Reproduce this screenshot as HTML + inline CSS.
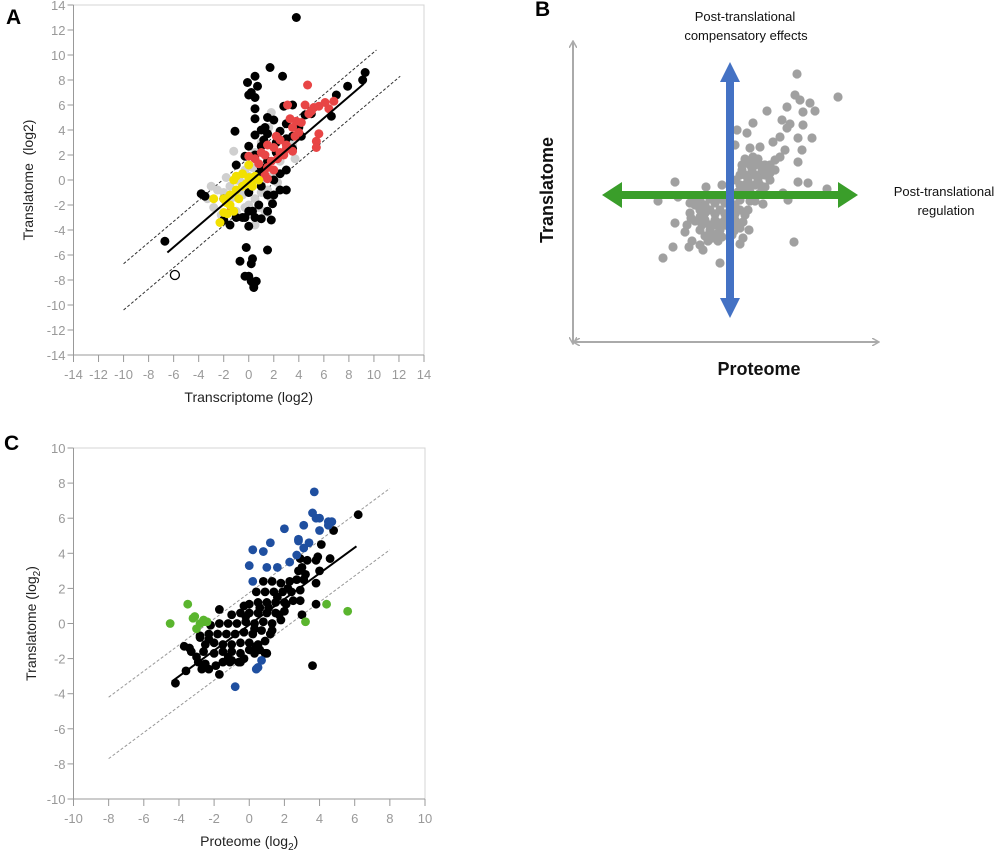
<!DOCTYPE html>
<html><head><meta charset="utf-8"><style>
html,body{margin:0;padding:0;background:#fff;}
svg{display:block;font-family:"Liberation Sans",sans-serif;}
</style></head><body>
<svg id="fig" width="1000" height="854" viewBox="0 0 1000 854">
<text x="6" y="24" font-size="21" font-weight="bold">A</text>
<text x="535" y="16" font-size="21" font-weight="bold">B</text>
<text x="4" y="450" font-size="21" font-weight="bold">C</text>
<g id="pa"></g>
<g id="pb"></g>
<g id="pc"></g>
</svg>
<script>
const NS="http://www.w3.org/2000/svg";
// ---------- Panel A data ----------
const aTicks=[-14,-12,-10,-8,-6,-4,-2,0,2,4,6,8,10,12,14];
const aGray=[[-1,0],[-0.5,0.5],[0,0.3],[0.5,0],[1,-0.3],[-1.5,-0.5],[-1,-1],[-0.5,-1.2],[0,-1],[0.5,-1.5],[1,-1],[-2,-1],[-2.5,-0.8],[-3,-0.5],[-3.3,-1.5],[-2.8,-2.2],[-1.5,-2],[-1,-2.5],[-0.3,-2.2],[0.8,-2.2],[1.3,-2.5],[1.5,-2.6],[0.5,-3.6],[-1.2,2.3],[1.8,5.4],[1.6,4.2],[1,3],[0.5,2.2],[1.5,1],[2,0.5],[2.3,-0.2],[0.3,1],[-0.3,0.8],[1.2,0.2],[-1.8,0.2],[1.5,-0.8],[0,-2],[3.7,1.7],[3.5,2.8],[2.5,1.5],[-0.6,-0.2],[0.2,-0.6],[-1.3,-1.4],[-0.8,0.2],[0.7,0.6],[1.8,-1.5],[-2.2,-2.8]];
const aBlack=[[3.8,13],[1.7,9],[2.7,8.3],[0.5,8.3],[-0.1,7.8],[0.7,7.5],[0,6.8],[0.5,6.6],[0.2,7],[0.5,5.7],[0.5,4.9],[1.5,5],[2,4.8],[1,4],[-1.1,3.9],[0.5,3.6],[1.5,3.7],[2.5,3.9],[3.5,3.5],[0,2.7],[1,2.7],[-1,1.2],[0.5,2],[-0.3,1.9],[3,0.8],[2.5,0.5],[2,0],[2,-1.2],[2.5,-0.8],[3,-0.8],[1.5,-1.2],[1.9,-1.9],[1.8,-3.2],[1,-3.1],[0.3,-2.5],[0.5,-3],[-0.3,-3],[0,-3.7],[-1.5,-3.6],[-3.8,-1.1],[-3.5,-1.3],[-0.2,-5.4],[-0.7,-6.5],[0.3,-6.3],[0.2,-6.7],[1.5,-5.6],[-0.3,-7.7],[0,-7.7],[0.2,-8.1],[0.6,-8.1],[0.4,-8.6],[0.4,-8.4],[-6.7,-4.9],[9.3,8.6],[9.1,8],[7.9,7.5],[7,6.8],[6.6,5.1],[5,5.3],[4.5,5.2],[3.5,6],[3,4.5],[4,4.2],[1,1],[1.5,1.5],[0.8,-2],[0,-2.5],[-0.5,-3],[-1,-3],[-2,-3.2],[-2,-1.5],[0.8,0.5],[3.5,2.5],[1.2,3.2],[2.2,3],[3,3.3],[4.2,3.5],[1,-0.5],[1.5,-2.5],[0,-1],[2.8,5.9],[1.3,4.2],[2.2,2.2]];
const aRed=[[4.7,7.6],[3.1,6],[4.5,6],[5.2,5.8],[5.6,5.9],[6.1,6.2],[6.8,6.3],[6.4,5.7],[5,5.5],[4.8,5.3],[3.3,4.9],[3.8,4.7],[4.2,4.6],[3.5,4.2],[4,3.8],[3.7,3.5],[5.6,3.7],[5.4,3.1],[5.4,2.6],[2.2,3.5],[2.5,3.2],[1.5,2.8],[2,2.6],[3,2.5],[3.5,2.3],[1,2.2],[1.3,2],[0,1.9],[0.5,1.7],[1.8,1.5],[2.3,1.7],[2.8,2],[0.8,1.3],[1.5,1],[2,0.8],[1.3,0.4],[1.5,0.1],[2.5,2.2],[3,2.8],[-1.4,-2.4]];
const aYellow=[[0,1.2],[-1.2,0],[-1,0.3],[-0.5,0.5],[0,0.2],[0.5,0.3],[-0.2,-0.3],[0.3,-0.5],[-0.5,-0.5],[-1,-0.8],[-1.5,-1.2],[-2,-1.5],[-1.8,-1.8],[-2.8,-1.5],[-1.5,-2],[-2,-2.6],[-1.7,-2.7],[-2.3,-3.4],[-1.2,-2.5],[0.8,0],[0.3,0.1],[-0.8,-1.5]];
const aOpen=[[-5.9,-7.6]];
const aFit=[[-6.5,-5.8],[9.2,7.7]];
const aUpper=[[-10,-6.7],[10.2,10.4]];
const aLower=[[-10,-10.4],[12.1,8.3]];
// ---------- Panel C data ----------
const cTicks=[-10,-8,-6,-4,-2,0,2,4,6,8,10];
const cBlack=[[6.2,6.2],[4.8,5.3],[4.1,4.5],[4.6,3.7],[3.9,3.8],[3.8,3.6],[4,3],[3.3,3.6],[2.9,3.7],[3.8,2.3],[3.8,1.1],[3,0.5],[3.6,-2.4],[-4.2,-3.4],[-3.6,-2.7],[-1.7,-2.9],[-2.7,-2.6],[-2.5,-2.3],[-1.7,0.8],
[-1.5,-2.2],[-1,-2.1],[-0.6,-2.2],[-1.2,-1.9],[-2,-1.7],[-1.5,-1.6],[-1,-1.6],[-0.5,-1.7],[0,-1.5],[0.3,-1.7],[0.6,-1.5],[1,-1.7],
[-2.5,-1.2],[-2,-1.1],[-1.5,-1.2],[-1,-1.2],[-0.5,-1.1],[0,-1.1],[0.5,-1.2],[0.9,-1],
[-2.8,-0.7],[-2.3,-0.6],[-1.8,-0.6],[-1.3,-0.6],[-0.8,-0.6],[-0.3,-0.5],[0.2,-0.6],[0.7,-0.4],[1.2,-0.6],
[-2.2,-0.1],[-1.7,0],[-1.2,0],[-0.7,0],[-0.2,0.1],[0.3,0],[0.8,0.1],[1.3,0],[1.8,0.2],
[-1,0.5],[-0.5,0.6],[0,0.6],[0.5,0.6],[1,0.6],[1.5,0.6],[2,0.7],[-0.3,1],
[0,1.1],[0.5,1.2],[1,1.2],[1.5,1.2],[2,1.2],[2.5,1.3],[2.9,1.3],
[0.4,1.8],[0.9,1.8],[1.4,1.8],[1.9,1.8],[2.4,1.8],[2.9,1.9],
[0.8,2.4],[1.3,2.4],[1.8,2.3],[2.3,2.4],[2.7,2.5],[3.1,2.5],[3,3.2],[2.8,3],[3.2,2.8],
[-3.7,-1.3],[-3.4,-1.4],[-3.3,-1.6],[-3,-1.9],[-2.6,-1.6],[-2.8,-0.8],[-2.3,-0.9],[-2.3,-2.6],[-1.1,-2.2],[-0.3,-2],[0.4,-1.3],[1.3,-0.4],[2.1,1.1],[1.7,0.5],[-0.5,-2.2],[0.9,-1.7],[-2.9,-2.2],[-1.9,-2.4],[0.3,-0.3],[-0.2,0.4],[1.1,0.9],[2.2,2],[1.6,1.5],[0.6,0.9]];
const cBlue=[[3.7,7.5],[3.6,6.3],[3.8,6],[4,6],[4.5,5.8],[4.7,5.8],[4.5,5.6],[4,5.3],[2,5.4],[3.1,5.6],[1.2,4.6],[2.8,4.8],[2.8,4.7],[3.4,4.6],[3.1,4.3],[0.2,4.2],[0.8,4.1],[2.7,3.9],[0,3.3],[1,3.2],[1.6,3.2],[2.3,3.5],[0.2,2.4],[0.7,-2.1],[0.5,-2.5],[0.4,-2.6],[-0.8,-3.6]];
const cGreen=[[-3.5,1.1],[-4.5,0],[-3.2,0.3],[-3.1,0.4],[-2.8,0],[-2.6,0.1],[-2.4,0.1],[-2.6,0.2],[-3,-0.3],[4.4,1.1],[5.6,0.7],[3.2,0.1]];
const cFit=[[-4.4,-3.3],[6.1,4.4]];
const cUpper=[[-8,-4.2],[8,7.7]];
const cLower=[[-8,-7.7],[8,4.2]];
// ---------- Panel B data ----------
const bPoints=[[6.7,12.1],[10.8,9.8],[6.5,10],[7,9.5],[8,9.2],[8.5,8.4],[5.7,8.8],[3.7,8.4],[7.3,8.3],[2.3,7.2],[1.7,6.2],[5.2,7.5],[6,7.1],[5.7,6.7],[7.3,7],[5,5.8],[6.8,5.7],[8.2,5.7],[4.3,5.3],[3,4.8],[2,4.7],[0.7,6.5],[0.5,5],[7.2,4.5],[6.8,3.3],[6.8,1.3],[7.8,1.2],[9.7,0.6],[5.8,-0.5],[5.3,0.2],[-5.5,1.3],[-2.4,0.8],[-0.8,1],[-7.2,-0.6],[-5.2,-0.2],[-5.5,-2.8],[-4.5,-3.7],[-5.7,-5.2],[-6.7,-6.3],[-3.8,-4.6],[-4.1,-5.2],[-2.7,-5.5],[-3,-5],[-1,-6.8],[6.4,-4.7],[1.9,-3.5],[1,-4.9],[1.3,-4.3],
[1,1],[1.5,1],[2,1],[2.5,1],[3,1],[3.5,0.8],[1,2],[1.5,2],[2,2],[2.5,2],[3,2],[3.5,2],[4,2.2],[1.2,3],[2,3],[2.5,3],[3,3],[3.5,3],[4,3],[4.5,3.5],[5,3.8],[5.5,4.5],[1.5,3.6],[2.3,3.8],[0.8,0.3],[2,0.3],[3,0.2],[4,1.5],[4.5,2.5],[1,-0.2],[2.5,-0.6],[3.3,-0.9],
[-4,-0.8],[-3,-0.5],[-2,-0.4],[-1,-0.4],[0,-0.4],[1,-0.5],[2,-0.6],[-4,-1.8],[-3,-1.5],[-2,-1.5],[-1,-1.5],[0,-1.5],[1,-1.5],[1.8,-1.5],[-3.5,-2.6],[-2.5,-2.5],[-1.5,-2.5],[-0.5,-2.5],[0.5,-2.5],[1.3,-2.7],[-3,-3.5],[-2,-3.5],[-1,-3.5],[0,-3.3],[1,-3.3],[-1.8,-4.3],[-0.8,-4.2],[0.2,-4],[-4.3,-3],[-2.5,-4.1],[-3.5,-1],[-2.5,-1.8],[-1.5,-0.8],[-0.5,-0.8],[0.5,-1],[-2,-3],[-1,-2.8],[0,-2.2],[-3,-2.2],
[0.6,1.5],[1.2,2.5],[1.8,1.5],[2.2,2.5],[2.8,1.5],[3.2,2.5],[1.8,3.2],[2.8,3.6],[3.8,2.6],[1.3,0.5],[2.3,-0.2],[-3.5,-0.4],[-2.5,-1],[-1.5,-1.9],[-0.5,-1.9],[0.5,-1.9],[-2.8,-3],[-1.5,-3],[-0.5,-3],[0.6,-3],[-2.2,-4.6],[-1.2,-4.6],[-3.9,-2.3],[-1.3,-3.9],[0.4,-3.6],[1.5,-2],[-3.2,-1.1]];

function el(tag,attrs,parent){const e=document.createElementNS(NS,tag);for(const k in attrs)e.setAttribute(k,attrs[k]);parent.appendChild(e);return e;}
function lin(d0,d1,r0,r1){return v=>r0+(v-d0)*(r1-r0)/(d1-d0);}

function scatterPanel(g,o){
  const sx=lin(o.min,o.max,o.x0,o.x1), sy=lin(o.min,o.max,o.y0,o.y1);
  const frame=el('rect',{x:o.x0,y:o.y1,width:o.x1-o.x0,height:o.y0-o.y1,fill:'none',stroke:'#d4d4d4','stroke-width':1},g);
  
  
  const ax=el('line',{x1:o.x0,y1:o.y0,x2:o.x1,y2:o.y0,stroke:'#999'},g);
  
  
  const ay=el('line',{x1:o.x0,y1:o.y0,x2:o.x0,y2:o.y1,stroke:'#999'},g);
  
  
  o.ticks.forEach(t=>{
    const tx=el('line',{x1:sx(t),y1:o.y0,x2:sx(t),y2:o.y0+7,stroke:'#999'},g);
    
    
    const lx=el('text',{x:sx(t),y:o.y0+24,'text-anchor':'middle','font-size':13,fill:'#999'},g);lx.textContent=t;
    
    
    const ty=el('line',{x1:o.x0-6,y1:sy(t),x2:o.x0,y2:sy(t),stroke:'#999'},g);
    
    
    const ly=el('text',{x:o.x0-8,y:sy(t)+5,'text-anchor':'end','font-size':13,fill:'#999'},g);ly.textContent=t;
    
    
  });
  o.lines.forEach(L=>{
    const ln=el('line',{x1:sx(L.d[0][0]),y1:sy(L.d[0][1]),x2:sx(L.d[1][0]),y2:sy(L.d[1][1]),stroke:L.c,'stroke-width':L.w,'stroke-dasharray':L.dash||'none'},g);
    
    
  });
  o.series.forEach(S=>{
    S.d.forEach(p=>{
      const c=el('circle',{cx:sx(p[0]),cy:sy(p[1]),r:o.r,fill:S.fill,stroke:S.stroke||'none','stroke-width':1.3},g);
      
      
    });
  });
  o.fgLines.forEach(L=>{
    const ln=el('line',{x1:sx(L.d[0][0]),y1:sy(L.d[0][1]),x2:sx(L.d[1][0]),y2:sy(L.d[1][1]),stroke:L.c,'stroke-width':L.w},g);
    
    
  });
  const xt=el('text',{x:(o.x0+o.x1)/2,y:o.y0+47,'text-anchor':'middle','font-size':14,fill:'#222'},g);
  xt.innerHTML=o.xTitle;
  
  
  const yt=el('text',{x:0,y:0,'text-anchor':'middle','font-size':14,fill:'#222',transform:`translate(${o.yTitleX},${(o.y0+o.y1)/2}) rotate(-90)`},g);
  yt.innerHTML=o.yTitle;
  
  
}

scatterPanel(document.getElementById('pa'),{min:-14,max:14,x0:73.5,x1:424,y0:355,y1:5,ticks:aTicks,r:4.5,
  lines:[{d:aUpper,c:'#333',w:1,dash:'3,2',name:'upper-threshold-line'},{d:aLower,c:'#333',w:1,dash:'3,2',name:'lower-threshold-line'}],
  series:[{d:aGray,fill:'#cfcfcf',name:'gray-point'},{d:aBlack,fill:'#000',name:'black-point'},{d:aRed,fill:'#e84545',name:'red-point'},{d:aYellow,fill:'#f2e000',name:'yellow-point'},{d:aOpen,fill:'#fff',stroke:'#000',name:'open-point'}],
  fgLines:[{d:aFit,c:'#000',w:2,name:'regression-line'}],
  xTitle:'Transcriptome (log2)',yTitle:'Translatome&#160; (log2)',yTitleX:33});

scatterPanel(document.getElementById('pc'),{min:-10,max:10,x0:73.5,x1:425,y0:799,y1:448,ticks:cTicks,r:4.4,
  lines:[{d:cUpper,c:'#999',w:1,dash:'3,2',name:'upper-threshold-line'},{d:cLower,c:'#999',w:1,dash:'3,2',name:'lower-threshold-line'}],
  series:[{d:cBlack,fill:'#000',name:'black-point'},{d:cBlue,fill:'#1f4fa0',name:'blue-point'},{d:cGreen,fill:'#5ab52e',name:'green-point'}],
  fgLines:[{d:cFit,c:'#000',w:2,name:'regression-line'}],
  xTitle:'Proteome (log<tspan font-size="10" dy="4">2</tspan><tspan dy="-4">)</tspan>',yTitle:'Translatome (log<tspan font-size="10" dy="4">2</tspan><tspan dy="-4">)</tspan>',yTitleX:36});

// Panel B
(function(){
  const g=document.getElementById('pb');
  const cx=730, cy=195, u=10;
  const defs=el('defs',{},g);
  const m=el('marker',{id:'ga',markerWidth:8,markerHeight:8,refX:6,refY:4,orient:'auto-start-reverse',markerUnits:'userSpaceOnUse'},defs);
  el('path',{d:'M0,0 L7,4 L0,8',fill:'none',stroke:'#aaa','stroke-width':1.5},m);
  const vax=el('line',{x1:573,y1:343,x2:573,y2:42,stroke:'#aaa','stroke-width':2,'marker-end':'url(#ga)','marker-start':'url(#ga)'},g);
  
  
  const hax=el('line',{x1:574,y1:342,x2:878,y2:342,stroke:'#aaa','stroke-width':2,'marker-end':'url(#ga)','marker-start':'url(#ga)'},g);
  
  
  bPoints.forEach(p=>{
    const c=el('circle',{cx:cx+p[0]*u,cy:cy-p[1]*u,r:4.6,fill:'#a0a0a0'},g);
    
    
  });
  const ga=el('polygon',{points:'602,195 622,182 622,191 838,191 838,182 858,195 838,208 838,199 622,199 622,208',fill:'#3a9e2a'},g);
  
  
  const ba=el('polygon',{points:'730,62 740,82 734,82 734,298 740,298 730,318 720,298 726,298 726,82 720,82',fill:'#4472c4'},g);
  
  
  function t(x,y,s,txt,name,anchor,w){const e=el('text',{x:x,y:y,'font-size':s,'text-anchor':anchor||'middle',fill:'#111','font-weight':w||'normal'},g);e.textContent=txt;return e;}
  t(745,21,13,'Post-translational','b-top-label-line1');
  t(746,40,13,'compensatory effects','b-top-label-line2');
  t(944,196,13,'Post-translational','b-right-label-line1');
  t(946,215,13,'regulation','b-right-label-line2');
  t(759,375,18,'Proteome','b-x-axis-title','middle','bold');
  const yt=el('text',{x:0,y:0,'font-size':18,'font-weight':'bold','text-anchor':'middle',fill:'#111',transform:'translate(553,190) rotate(-90)'},g);
  yt.textContent='Translatome';
  
  
})();
</script>
</body></html>
